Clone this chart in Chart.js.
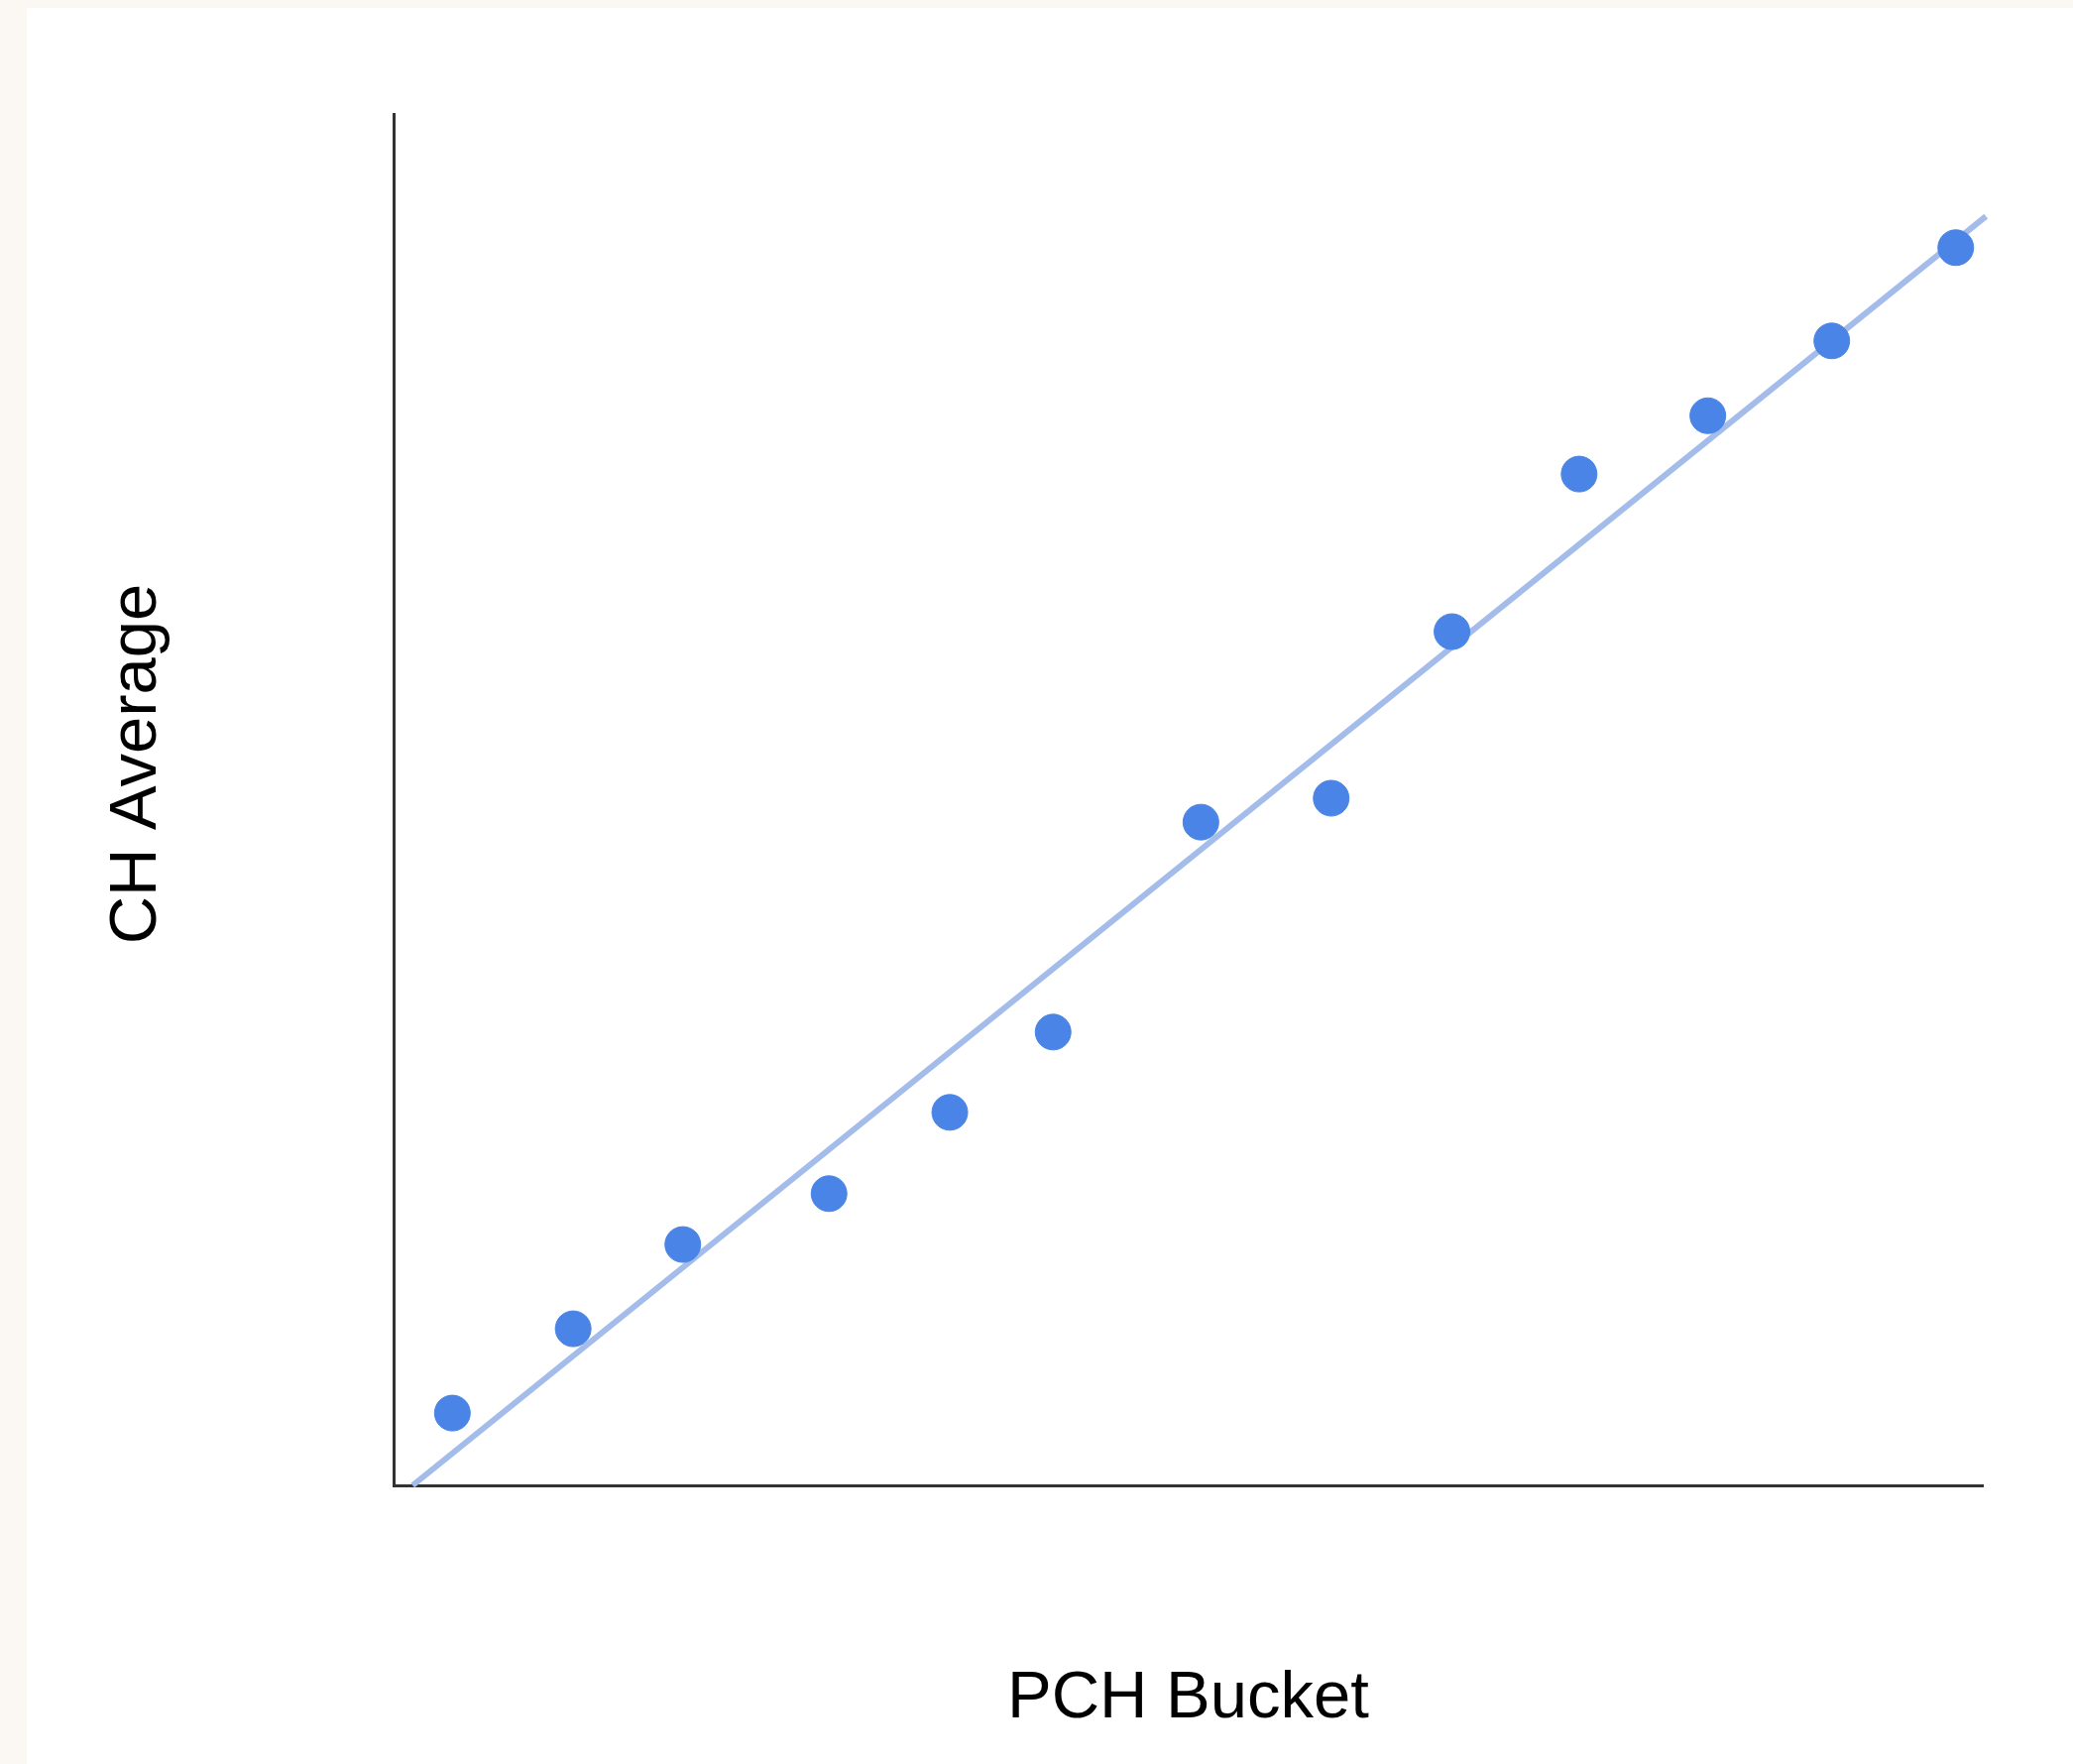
<!DOCTYPE html>
<html>
<head>
<meta charset="utf-8">
<script src="https://cdn.jsdelivr.net/npm/chart.js@4.4.1/dist/chart.umd.min.js"></script>
<style>
    html, body { margin: 0; padding: 0; background: #fbf8f3; overflow: hidden; }
    #sheet { position: absolute; left: 27px; top: 8px; width: 2064px; height: 1771px; background: #ffffff; }
</style>
</head>
<body>
<div id="sheet">
    <canvas id="myChart" width="2064" height="1771"></canvas>
</div>
<script>
// PCH bucket (x) vs CH average (y)
var pchBucket = [0.37, 1.13, 1.82, 2.74, 3.5, 4.15, 5.08, 5.9, 6.66, 7.46, 8.27, 9.05, 9.83];
var chAverage = [0.145, 0.314, 0.483, 0.585, 0.748, 0.909, 1.33, 1.378, 1.712, 2.028, 2.145, 2.295, 2.482];

// trendline end points
var trendX = [0.12, 10.02];
var trendY = [0, 2.545];

var xTitle = "PCH Bucket";
var yTitle = "CH Average";

var titleFont = '67px "Liberation Sans", Arial, sans-serif';

function toPoints(xs, ys) {
    return xs.map((x, i) => ({ x: x, y: ys[i] }));
}

var axisTitles = {
    id: 'axisTitles',
    afterDraw: function (chart) {
        var c = chart.ctx;
        var a = chart.chartArea;
        c.save();
        c.font = titleFont;
        c.fillStyle = '#000000';
        c.textAlign = 'center';
        c.textBaseline = 'alphabetic';
        c.fillText(xTitle, (a.left + a.right) / 2, a.bottom + 234);
        c.translate(a.left - 240, (a.top + a.bottom) / 2 - 36);
        c.rotate(-Math.PI / 2);
        c.fillText(yTitle, 0, 0);
        c.restore();
    }
};

var ctx = document.getElementById('myChart').getContext('2d');

var myChart = new Chart(ctx, {
    type: 'scatter',
    data: {
        datasets: [{
            label: 'CH Average',
            data: toPoints(pchBucket, chAverage),
            backgroundColor: '#4a84e6',
            borderColor: '#4a84e6',
            pointRadius: 18,
            pointBorderWidth: 1
        }, {
            type: 'line',
            label: 'Trend',
            data: toPoints(trendX, trendY),
            borderColor: '#a3bcea',
            borderWidth: 6,
            pointRadius: 0,
            fill: false,
            clip: false
        }]
    },
    options: {
        responsive: false,
        animation: false,
        devicePixelRatio: 1,
        layout: { padding: { left: 370, top: 107, right: 91, bottom: 281 } },
        plugins: {
            legend: { display: false },
            tooltip: { enabled: false }
        },
        scales: {
            x: {
                type: 'linear',
                min: 0,
                max: 10,
                ticks: { display: false },
                grid: { display: false, drawTicks: false },
                border: { display: true, color: '#333333', width: 3 }
            },
            y: {
                type: 'linear',
                min: 0,
                max: 2.75,
                ticks: { display: false, stepSize: 1 },
                grid: { display: false, drawTicks: false },
                border: { display: true, color: '#333333', width: 3 }
            }
        }
    },
    plugins: [axisTitles]
});
</script>
</body>
</html>
